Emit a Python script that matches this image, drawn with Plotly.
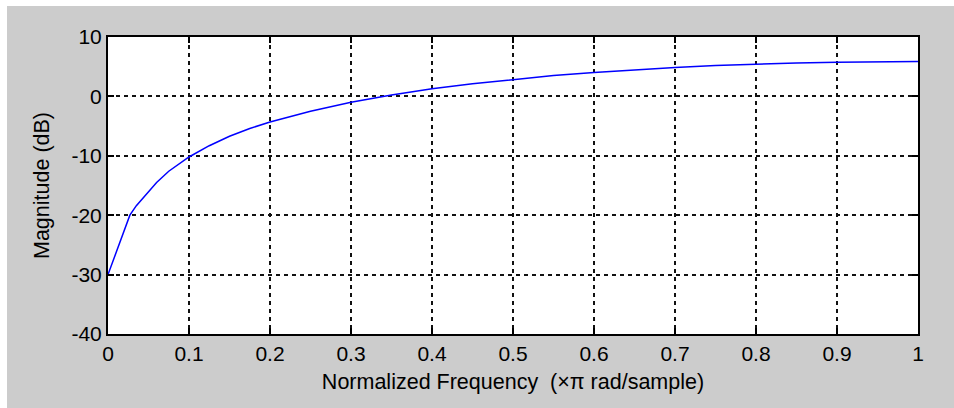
import plotly.graph_objects as go

freq = [0, 0.027, 0.035, 0.04, 0.05, 0.06, 0.075, 0.09, 0.1, 0.125, 0.15, 0.175, 0.2, 0.25,
        0.3, 0.35, 0.4, 0.45, 0.5, 0.55, 0.6, 0.65, 0.7, 0.75, 0.8, 0.85, 0.9, 0.95, 1.0]
mag_db = [-30.0, -20.0, -18.4, -17.6, -16.0, -14.5, -12.6, -11.1, -10.2, -8.3, -6.7, -5.4, -4.3, -2.5,
          -1.0, 0.25, 1.27, 2.13, 2.87, 3.5, 4.04, 4.5, 4.88, 5.19, 5.44, 5.64, 5.77, 5.85, 5.88]
x_ticks = [0, 0.1, 0.2, 0.3, 0.4, 0.5, 0.6, 0.7, 0.8, 0.9, 1]
x_tick_labels = ["0", "0.1", "0.2", "0.3", "0.4", "0.5", "0.6", "0.7", "0.8", "0.9", "1"]
y_ticks = [-40, -30, -20, -10, 0, 10]
y_tick_labels = ["-40", "-30", "-20", "-10", "0", "10"]

W, H = 954, 408
ml, mr, mt, mb = 108, 36, 37, 74
pw, ph = W - ml - mr, H - mt - mb

fig = go.Figure()
fig.add_trace(go.Scatter(x=freq, y=mag_db, mode="lines",
                         line=dict(color="#0000ff", width=1.5), showlegend=False,
                         hoverinfo="skip"))

tick_font = dict(family="Liberation Sans, Arial, sans-serif", size=21, color="#000")
title_font = dict(family="Liberation Sans, Arial, sans-serif", size=21.5, color="#000")
axis_common = dict(
    showline=True, linecolor="#000", linewidth=2, mirror="ticks",
    ticks="inside", ticklen=6, tickwidth=2, tickcolor="#000",
    showgrid=True, gridcolor="#111", gridwidth=1.5, griddash="4px,4px",
    zeroline=False, tickfont=tick_font,
)

fig.update_xaxes(range=[0, 1], tickvals=x_ticks, ticktext=x_tick_labels,
                 title=dict(text="Normalized Frequency  (\u00d7\u03c0 rad/sample)", font=title_font, standoff=10),
                 **axis_common)
fig.update_yaxes(range=[-40, 10], tickvals=y_ticks, ticktext=y_tick_labels,
                 title=dict(text="Magnitude (dB)", font=title_font, standoff=16),
                 **axis_common)

# white strips at the top and left edge of the figure (outside the gray panel)
shapes = [
    dict(type="rect", xref="paper", yref="paper", layer="below", line=dict(width=0),
         fillcolor="#ffffff", x0=-ml / pw - 0.01, x1=(7 - ml) / pw, y0=-mb / ph - 0.05, y1=1 + mt / ph + 0.05),
    dict(type="rect", xref="paper", yref="paper", layer="below", line=dict(width=0),
         fillcolor="#ffffff", x0=-ml / pw - 0.01, x1=1 + mr / pw + 0.01, y0=1 + (mt - 6) / ph, y1=1 + mt / ph + 0.05),
]

fig.update_layout(
    width=W, height=H,
    margin=dict(l=ml, r=mr, t=mt, b=mb),
    paper_bgcolor="#cccccc", plot_bgcolor="#ffffff",
    font=tick_font, shapes=shapes,
)

fig.write_html("out.html")
